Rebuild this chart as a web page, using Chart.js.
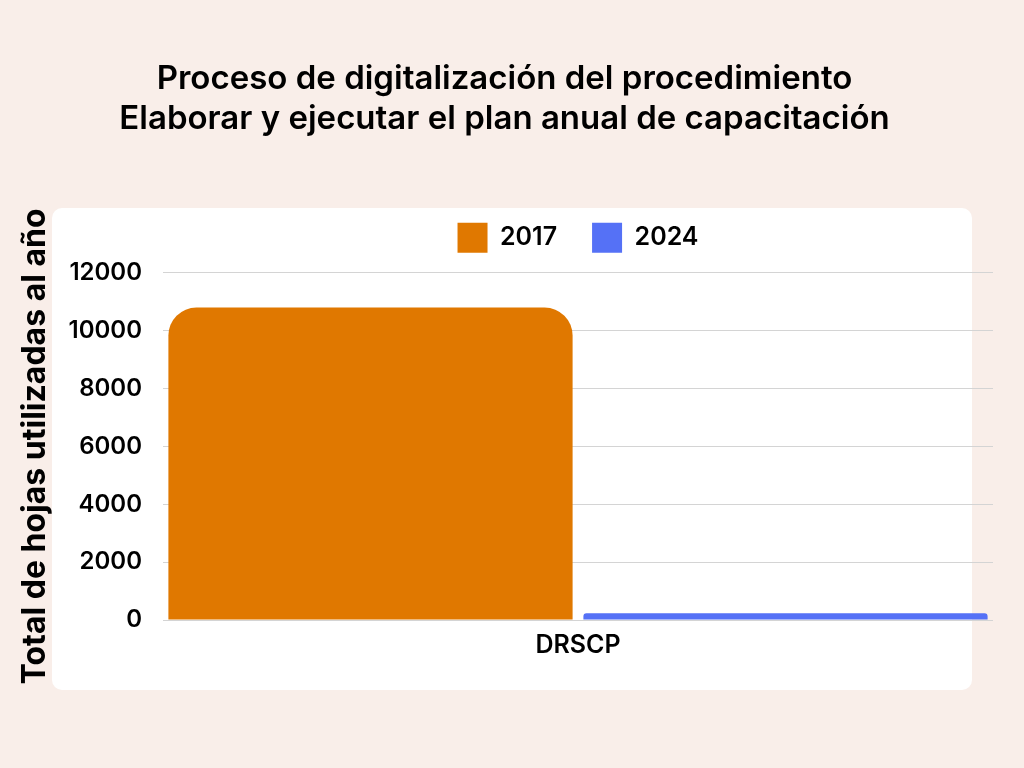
<!DOCTYPE html>
<html>
<head>
<meta charset="utf-8">
<script src="https://cdn.jsdelivr.net/npm/chart.js@4"></script>
<style>
  html, body { margin: 0; padding: 0; background: #F9EEE9; }
  #wrap { width: 1024px; height: 768px; }
</style>
</head>
<body>
<div id="wrap"><canvas id="chart" width="1024" height="768"></canvas></div>
<script>
// Daten
const categories = ['DRSCP'];
const years = ['2017', '2024'];
const values2017 = [10800];
const values2024 = [230];
const yTicks = [0, 2000, 4000, 6000, 8000, 10000, 12000];

const titleLines = [
    'Proceso de digitalización del procedimiento',
    'Elaborar y ejecutar el plan anual de capacitación'
];

// Hintergrund und weisses Panel
const panelPlugin = {
    id: 'panel',
    beforeDraw(chart) {
        const ctx = chart.ctx;
        ctx.save();
        ctx.fillStyle = '#F9EEE9';
        ctx.fillRect(0, 0, chart.width, chart.height);
        ctx.fillStyle = '#FFFFFF';
        ctx.beginPath();
        ctx.roundRect(52, 208, 920, 482, 10);
        ctx.fill();
        ctx.restore();
    }
};

// Legende etwas höher machen und über der Zeichenfläche zentrieren
const legendPlugin = {
    id: 'legendTweak',
    beforeInit(chart) {
        const fit = chart.legend.fit;
        chart.legend.fit = function () {
            fit.call(this);
            this.height += 10;
        };
    },
    afterLayout(chart) {
        const lg = chart.legend;
        lg.left = chart.chartArea.left;
        lg.right = chart.chartArea.right;
        lg.width = lg.right - lg.left;
    }
};

const fontFamily = 'Inter, "Open Sans", sans-serif';

new Chart(document.getElementById('chart').getContext('2d'), {
    type: 'bar',
    data: {
        labels: categories,
        datasets: [{
            label: years[0],
            data: values2017,
            backgroundColor: '#E07800',
            borderRadius: 28,
            borderSkipped: 'bottom',
            barPercentage: 0.974,
            categoryPercentage: 1
        }, {
            label: years[1],
            data: values2024,
            backgroundColor: '#5571F6',
            borderRadius: 28,
            borderSkipped: 'bottom',
            barPercentage: 0.974,
            categoryPercentage: 1
        }]
    },
    options: {
        responsive: false,
        animation: false,
        layout: {
            padding: { left: 16, right: 31, top: 50, bottom: 106 }
        },
        scales: {
            x: {
                grid: { display: false },
                border: { display: false },
                ticks: {
                    color: '#000',
                    font: { family: fontFamily, size: 25, weight: '600' },
                    padding: 2
                }
            },
            y: {
                min: 0,
                max: 12000,
                afterBuildTicks(axis) {
                    axis.ticks = yTicks.map(v => ({ value: v }));
                },
                afterFit(axis) {
                    axis.width = 147;
                },
                grid: { color: '#D4D4D4', lineWidth: 1, drawTicks: false },
                border: { display: false },
                ticks: {
                    color: '#000',
                    font: { family: fontFamily, size: 24, weight: '600' },
                    padding: 21,
                    callback: v => String(v)
                },
                title: {
                    display: true,
                    text: 'Total de hojas utilizadas al año',
                    color: '#000',
                    font: { family: fontFamily, size: 32, weight: '700' },
                    padding: { top: 0, bottom: 10 }
                }
            }
        },
        plugins: {
            title: {
                display: true,
                text: titleLines,
                color: '#000',
                font: { family: fontFamily, size: 33, weight: '600', lineHeight: 1.21 },
                padding: { top: 9, bottom: 49 }
            },
            legend: {
                display: true,
                labels: {
                    color: '#000',
                    boxWidth: 30,
                    boxHeight: 30,
                    padding: 35,
                    font: { family: fontFamily, size: 25, weight: '600' }
                }
            },
            tooltip: { enabled: false }
        }
    },
    plugins: [panelPlugin, legendPlugin]
});
</script>
</body>
</html>
